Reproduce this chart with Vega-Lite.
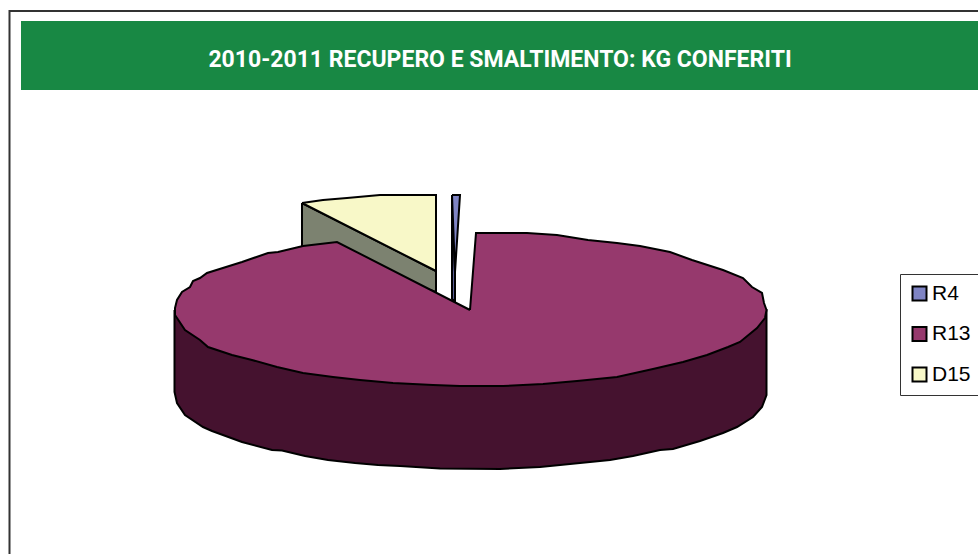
{
  "$schema": "https://vega.github.io/schema/vega-lite/v6.json",
  "width": 978,
  "height": 554,
  "padding": 0,
  "autosize": "none",
  "background": "#ffffff",
  "view": {"stroke": null},
  "title": {
    "text": "2010-2011 RECUPERO E SMALTIMENTO: KG CONFERITI",
    "anchor": "middle",
    "frame": "group",
    "orient": "top",
    "offset": -72,
    "dx": 11,
    "font": "Roboto",
    "fontSize": 23,
    "fontWeight": "bold",
    "color": "#ffffff"
  },
  "layer": [
    {
      "data": {"values": [
        {"x": 9.5, "y": 554, "i": 0},
        {"x": 9.5, "y": 11, "i": 1},
        {"x": 978, "y": 11, "i": 2}
      ]},
      "mark": {"type": "line", "stroke": "#333333", "strokeWidth": 2},
      "encoding": {
        "x": {"field": "x", "type": "quantitative", "scale": {"domain": [0, 978], "nice": false, "zero": false}, "axis": null},
        "y": {"field": "y", "type": "quantitative", "scale": {"domain": [554, 0], "nice": false, "zero": false}, "axis": null},
        "order": {"field": "i"}
      }
    },
    {
      "data": {"values": [{"x": 21, "x2": 978, "y": 21, "y2": 90}]},
      "mark": {"type": "rect", "fill": "#188844"},
      "encoding": {
        "x": {"field": "x", "type": "quantitative", "scale": {"domain": [0, 978], "nice": false, "zero": false}, "axis": null},
        "x2": {"field": "x2"},
        "y": {"field": "y", "type": "quantitative", "scale": {"domain": [554, 0], "nice": false, "zero": false}, "axis": null},
        "y2": {"field": "y2"}
      }
    },
    {
      "data": {"values": [
        {"face": "R4 lato", "i": 0, "x": 452, "y": 195},
        {"face": "R4 lato", "i": 1, "x": 455, "y": 272},
        {"face": "R4 lato", "i": 2, "x": 455, "y": 301},
        {"face": "R4 lato", "i": 3, "x": 452, "y": 299},
        {"face": "R4 lato", "i": 4, "x": 452, "y": 195},
        {"face": "R4", "i": 0, "x": 452, "y": 195},
        {"face": "R4", "i": 1, "x": 460, "y": 195},
        {"face": "R4", "i": 2, "x": 455, "y": 272},
        {"face": "R4", "i": 3, "x": 452, "y": 195},
        {"face": "D15 lato", "i": 0, "x": 302, "y": 203},
        {"face": "D15 lato", "i": 1, "x": 436, "y": 271},
        {"face": "D15 lato", "i": 2, "x": 436, "y": 292},
        {"face": "D15 lato", "i": 3, "x": 302, "y": 247},
        {"face": "D15 lato", "i": 4, "x": 302, "y": 203},
        {"face": "D15", "i": 0, "x": 302, "y": 203},
        {"face": "D15", "i": 1, "x": 323, "y": 200},
        {"face": "D15", "i": 2, "x": 347, "y": 198},
        {"face": "D15", "i": 3, "x": 380, "y": 195},
        {"face": "D15", "i": 4, "x": 436, "y": 195},
        {"face": "D15", "i": 5, "x": 436, "y": 271},
        {"face": "D15", "i": 6, "x": 302, "y": 203},
        {"face": "R13 lato", "i": 0, "x": 174.5, "y": 310},
        {"face": "R13 lato", "i": 1, "x": 174.5, "y": 392},
        {"face": "R13 lato", "i": 2, "x": 177, "y": 403},
        {"face": "R13 lato", "i": 3, "x": 185, "y": 415},
        {"face": "R13 lato", "i": 4, "x": 203, "y": 427},
        {"face": "R13 lato", "i": 5, "x": 212, "y": 431},
        {"face": "R13 lato", "i": 6, "x": 242, "y": 442},
        {"face": "R13 lato", "i": 7, "x": 272, "y": 450},
        {"face": "R13 lato", "i": 8, "x": 282, "y": 450.5},
        {"face": "R13 lato", "i": 9, "x": 305, "y": 456},
        {"face": "R13 lato", "i": 10, "x": 328, "y": 460},
        {"face": "R13 lato", "i": 11, "x": 355, "y": 463},
        {"face": "R13 lato", "i": 12, "x": 378, "y": 465},
        {"face": "R13 lato", "i": 13, "x": 400, "y": 466},
        {"face": "R13 lato", "i": 14, "x": 440, "y": 468.5},
        {"face": "R13 lato", "i": 15, "x": 500, "y": 469},
        {"face": "R13 lato", "i": 16, "x": 540, "y": 467},
        {"face": "R13 lato", "i": 17, "x": 560, "y": 465},
        {"face": "R13 lato", "i": 18, "x": 580, "y": 463},
        {"face": "R13 lato", "i": 19, "x": 610, "y": 460},
        {"face": "R13 lato", "i": 20, "x": 633, "y": 456},
        {"face": "R13 lato", "i": 21, "x": 660, "y": 450},
        {"face": "R13 lato", "i": 22, "x": 673, "y": 449},
        {"face": "R13 lato", "i": 23, "x": 700, "y": 441},
        {"face": "R13 lato", "i": 24, "x": 723, "y": 433},
        {"face": "R13 lato", "i": 25, "x": 737, "y": 427},
        {"face": "R13 lato", "i": 26, "x": 753, "y": 417},
        {"face": "R13 lato", "i": 27, "x": 762, "y": 407},
        {"face": "R13 lato", "i": 28, "x": 766.5, "y": 395},
        {"face": "R13 lato", "i": 29, "x": 766.5, "y": 310},
        {"face": "R13 lato", "i": 30, "x": 470, "y": 345},
        {"face": "R13 lato", "i": 31, "x": 174.5, "y": 310},
        {"face": "R13", "i": 0, "x": 470, "y": 310},
        {"face": "R13", "i": 1, "x": 476, "y": 233},
        {"face": "R13", "i": 2, "x": 527, "y": 233},
        {"face": "R13", "i": 3, "x": 557, "y": 235},
        {"face": "R13", "i": 4, "x": 588, "y": 240},
        {"face": "R13", "i": 5, "x": 617, "y": 243},
        {"face": "R13", "i": 6, "x": 640, "y": 246},
        {"face": "R13", "i": 7, "x": 670, "y": 252},
        {"face": "R13", "i": 8, "x": 692, "y": 260},
        {"face": "R13", "i": 9, "x": 723, "y": 270},
        {"face": "R13", "i": 10, "x": 743, "y": 278},
        {"face": "R13", "i": 11, "x": 752, "y": 287},
        {"face": "R13", "i": 12, "x": 762, "y": 293},
        {"face": "R13", "i": 13, "x": 764, "y": 303},
        {"face": "R13", "i": 14, "x": 766.5, "y": 310},
        {"face": "R13", "i": 15, "x": 765, "y": 318},
        {"face": "R13", "i": 16, "x": 757, "y": 328},
        {"face": "R13", "i": 17, "x": 740, "y": 342},
        {"face": "R13", "i": 18, "x": 728, "y": 347},
        {"face": "R13", "i": 19, "x": 707, "y": 355},
        {"face": "R13", "i": 20, "x": 683, "y": 362},
        {"face": "R13", "i": 21, "x": 653, "y": 369},
        {"face": "R13", "i": 22, "x": 617, "y": 377},
        {"face": "R13", "i": 23, "x": 577, "y": 381},
        {"face": "R13", "i": 24, "x": 543, "y": 384},
        {"face": "R13", "i": 25, "x": 503, "y": 386},
        {"face": "R13", "i": 26, "x": 460, "y": 386},
        {"face": "R13", "i": 27, "x": 433, "y": 385},
        {"face": "R13", "i": 28, "x": 393, "y": 383},
        {"face": "R13", "i": 29, "x": 360, "y": 380},
        {"face": "R13", "i": 30, "x": 333, "y": 377},
        {"face": "R13", "i": 31, "x": 303, "y": 373},
        {"face": "R13", "i": 32, "x": 277, "y": 367},
        {"face": "R13", "i": 33, "x": 252, "y": 360},
        {"face": "R13", "i": 34, "x": 232, "y": 355},
        {"face": "R13", "i": 35, "x": 208, "y": 347},
        {"face": "R13", "i": 36, "x": 200, "y": 340},
        {"face": "R13", "i": 37, "x": 185, "y": 330},
        {"face": "R13", "i": 38, "x": 175, "y": 315},
        {"face": "R13", "i": 39, "x": 175, "y": 308},
        {"face": "R13", "i": 40, "x": 177, "y": 300},
        {"face": "R13", "i": 41, "x": 182, "y": 292},
        {"face": "R13", "i": 42, "x": 190, "y": 287},
        {"face": "R13", "i": 43, "x": 193, "y": 281},
        {"face": "R13", "i": 44, "x": 200, "y": 278},
        {"face": "R13", "i": 45, "x": 207, "y": 273},
        {"face": "R13", "i": 46, "x": 242, "y": 262},
        {"face": "R13", "i": 47, "x": 268, "y": 253},
        {"face": "R13", "i": 48, "x": 278, "y": 252},
        {"face": "R13", "i": 49, "x": 303, "y": 246},
        {"face": "R13", "i": 50, "x": 337, "y": 242},
        {"face": "R13", "i": 51, "x": 470, "y": 310}
      ]},
      "mark": {"type": "line", "filled": true, "stroke": "#000000", "strokeWidth": 2, "strokeJoin": "miter", "strokeMiterLimit": 10},
      "encoding": {
        "x": {"field": "x", "type": "quantitative", "scale": {"domain": [0, 978], "nice": false, "zero": false}, "axis": null},
        "y": {"field": "y", "type": "quantitative", "scale": {"domain": [554, 0], "nice": false, "zero": false}, "axis": null},
        "order": {"field": "i"},
        "color": {
          "field": "face",
          "type": "nominal",
          "sort": null,
          "scale": {
            "domain": ["R4", "R13", "D15", "R4 lato", "R13 lato", "D15 lato"],
            "range": ["#7F84C4", "#96396D", "#F8F8C8", "#5A5E96", "#45122F", "#7C8270"]
          },
          "legend": {
            "values": ["R4", "R13", "D15"],
            "title": null,
            "orient": "none",
            "legendX": 900,
            "legendY": 274,
            "symbolType": "square",
            "symbolSize": 196,
            "symbolStrokeColor": "#000000",
            "symbolStrokeWidth": 2,
            "labelFont": "Liberation Sans",
            "labelFontSize": 21,
            "labelColor": "#000000",
            "labelOffset": 2,
            "labelLimit": 80,
            "rowPadding": 17.5,
            "padding": 9,
            "strokeColor": "#333333",
            "fillColor": "#ffffff"
          }
        }
      }
    }
  ]
}
